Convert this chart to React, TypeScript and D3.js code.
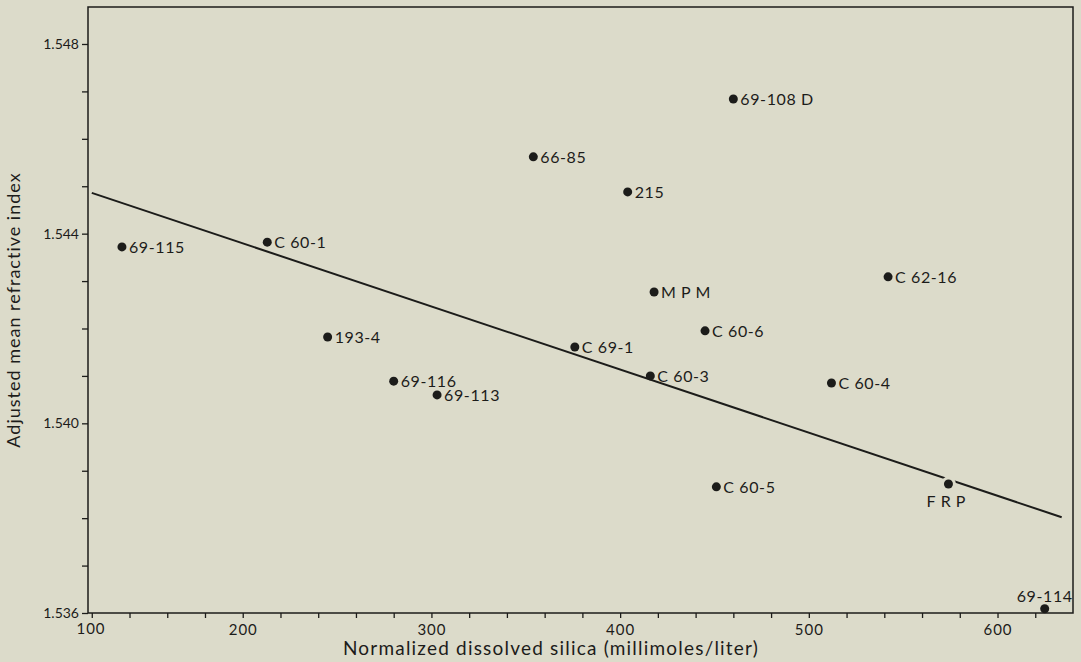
import React, { useEffect, useRef } from 'react';
import * as d3 from 'd3';

// sample points
const sampleNames = [
	'69-115', 'C 60-1', '193-4', '69-116', '69-113', '66-85', '215', 'C 69-1', 'C 60-3',
	'MPM', 'C 60-6', '69-108 D', 'C 60-5', 'C 60-4', 'C 62-16', 'FRP', '69-114',
];
const silica = [136, 213, 245, 280, 303, 354, 404, 376, 416, 418, 445, 460, 451, 512, 542, 574, 625];
const refractive = [
	1.54372, 1.54382, 1.54182, 1.54089, 1.5406, 1.54562, 1.54488, 1.54161, 1.541,
	1.54277, 1.54195, 1.54684, 1.53866, 1.54085, 1.54309, 1.53872, 1.53609,
];
// where the label sits relative to the dot
const labelSide = [
	'right', 'right', 'right', 'right', 'right', 'right', 'right', 'right', 'right',
	'right', 'right', 'right', 'right', 'right', 'right', 'below', 'above',
];
const spacedNames = ['MPM', 'FRP'];
const haloNames = ['FRP'];

// regression line end points
const fitSilica = [120, 634];
const fitIndex = [1.54486, 1.53802];

const xMajorTicks = [200, 300, 400, 500, 600];
const xFirstLabel = '100';
const yMajorTicks = [1.536, 1.54, 1.544, 1.548];

const width = 1081;
const height = 662;
const margin = { top: 7, right: 8, bottom: 49, left: 88 };
const bg = '#dcdbca';
const ink = '#1c1c1a';
const font = 'Lato, "DejaVu Sans", sans-serif';

export default function App() {
	const node = useRef<SVGSVGElement | null>(null);

	useEffect(() => {
		const svg = d3.select(node.current);
		svg.selectAll('*').remove();

		const xScale = d3.scaleLinear().domain([118, 640]).range([margin.left, width - margin.right]);
		const yScale = d3.scaleLinear().domain([1.536, 1.54878]).range([height - margin.bottom, margin.top]);

		svg.append('rect').attr('width', width).attr('height', height).attr('fill', bg);

		// frame
		svg.append('rect')
			.attr('x', margin.left)
			.attr('y', margin.top)
			.attr('width', width - margin.left - margin.right)
			.attr('height', height - margin.top - margin.bottom)
			.attr('fill', 'none')
			.attr('stroke', ink)
			.attr('stroke-width', 1.5);

		// x axis
		const xMinor = d3.range(120, 640, 20);
		const xAxis = d3
			.axisBottom(xScale)
			.tickValues(xMinor)
			.tickSize(5)
			.tickFormat(d => (xMajorTicks.includes(+d) ? String(d) : ''));
		const gx = svg
			.append('g')
			.attr('transform', `translate(0,${height - margin.bottom})`)
			.call(xAxis);
		gx.select('.domain').remove();
		gx.selectAll('line').attr('stroke', ink).attr('stroke-width', 1.3);
		gx.selectAll('text')
			.attr('fill', ink)
			.attr('dy', '0.9em')
			.style('font', `15px ${font}`)
			.style('letter-spacing', '1px');
		svg.append('text')
			.attr('x', xScale.range()[0] + 3)
			.attr('y', height - margin.bottom + 21)
			.attr('fill', ink)
			.style('font', `15px ${font}`)
			.style('letter-spacing', '1px')
			.attr('text-anchor', 'middle')
			.text(xFirstLabel);

		// y axis
		const yMinor = d3.range(0, 13).map(i => 1.536 + i * 0.001);
		const yAxis = d3
			.axisLeft(yScale)
			.tickValues(yMinor)
			.tickSize(6)
			.tickFormat(d => (yMajorTicks.some(t => Math.abs(t - +d) < 1e-7) ? d3.format('.3f')(+d) : ''));
		const gy = svg.append('g').attr('transform', `translate(${margin.left},0)`).call(yAxis);
		gy.select('.domain').remove();
		gy.selectAll('line').attr('stroke', ink).attr('stroke-width', 1.3);
		gy.selectAll('text').attr('fill', ink).style('font', `14px ${font}`);

		// axis titles
		svg.append('text')
			.attr('x', 551)
			.attr('y', height - 7)
			.attr('text-anchor', 'middle')
			.attr('fill', ink)
			.style('font', `19px ${font}`)
			.style('letter-spacing', '1.2px')
			.text('Normalized dissolved silica (millimoles/liter)');
		svg.append('text')
			.attr('transform', `translate(20,${(margin.top + height - margin.bottom) / 2}) rotate(-90)`)
			.attr('text-anchor', 'middle')
			.attr('fill', ink)
			.style('font', `18px ${font}`)
			.style('letter-spacing', '1px')
			.text('Adjusted mean refractive index');

		// fitted line
		const makeLine = d3
			.line<number>()
			.x((d, i) => xScale(fitSilica[i]))
			.y(d => yScale(d));
		svg.append('path')
			.attr('d', makeLine(fitIndex))
			.attr('fill', 'none')
			.attr('stroke', ink)
			.attr('stroke-width', 2);

		// points
		const data = sampleNames.map((name, i) => ({
			name,
			x: silica[i],
			y: refractive[i],
			side: labelSide[i],
		}));

		// gap in the fitted line around some dots
		svg.selectAll('circle.halo')
			.data(data.filter(d => haloNames.includes(d.name)))
			.enter()
			.append('circle')
			.attr('class', 'halo')
			.attr('cx', d => xScale(d.x))
			.attr('cy', d => yScale(d.y))
			.attr('r', 7.5)
			.attr('fill', bg);

		svg.selectAll('circle.pt')
			.data(data)
			.enter()
			.append('circle')
			.attr('class', 'pt')
			.attr('cx', d => xScale(d.x))
			.attr('cy', d => yScale(d.y))
			.attr('r', 4.5)
			.attr('fill', ink);

		svg.selectAll('text.lbl')
			.data(data)
			.enter()
			.append('text')
			.attr('class', 'lbl')
			.attr('x', d => xScale(d.x) + (d.side === 'right' ? 7 : 0))
			.attr('y', d => {
				if (d.side === 'below') return yScale(d.y) + 23;
				if (d.side === 'above') return yScale(d.y) - 7;
				return yScale(d.y) + 6;
			})
			.attr('text-anchor', d => (d.side === 'right' ? 'start' : 'middle'))
			.attr('fill', ink)
			.style('font', `16px ${font}`)
			.style('letter-spacing', d => (spacedNames.includes(d.name) ? '5px' : '0.6px'))
			.text(d => d.name);
	}, []);

	return (
		<div style={{ position: 'fixed', left: 0, top: 0 }}>
			<svg ref={node} width={width} height={height} style={{ display: 'block' }} />
		</div>
	);
}
